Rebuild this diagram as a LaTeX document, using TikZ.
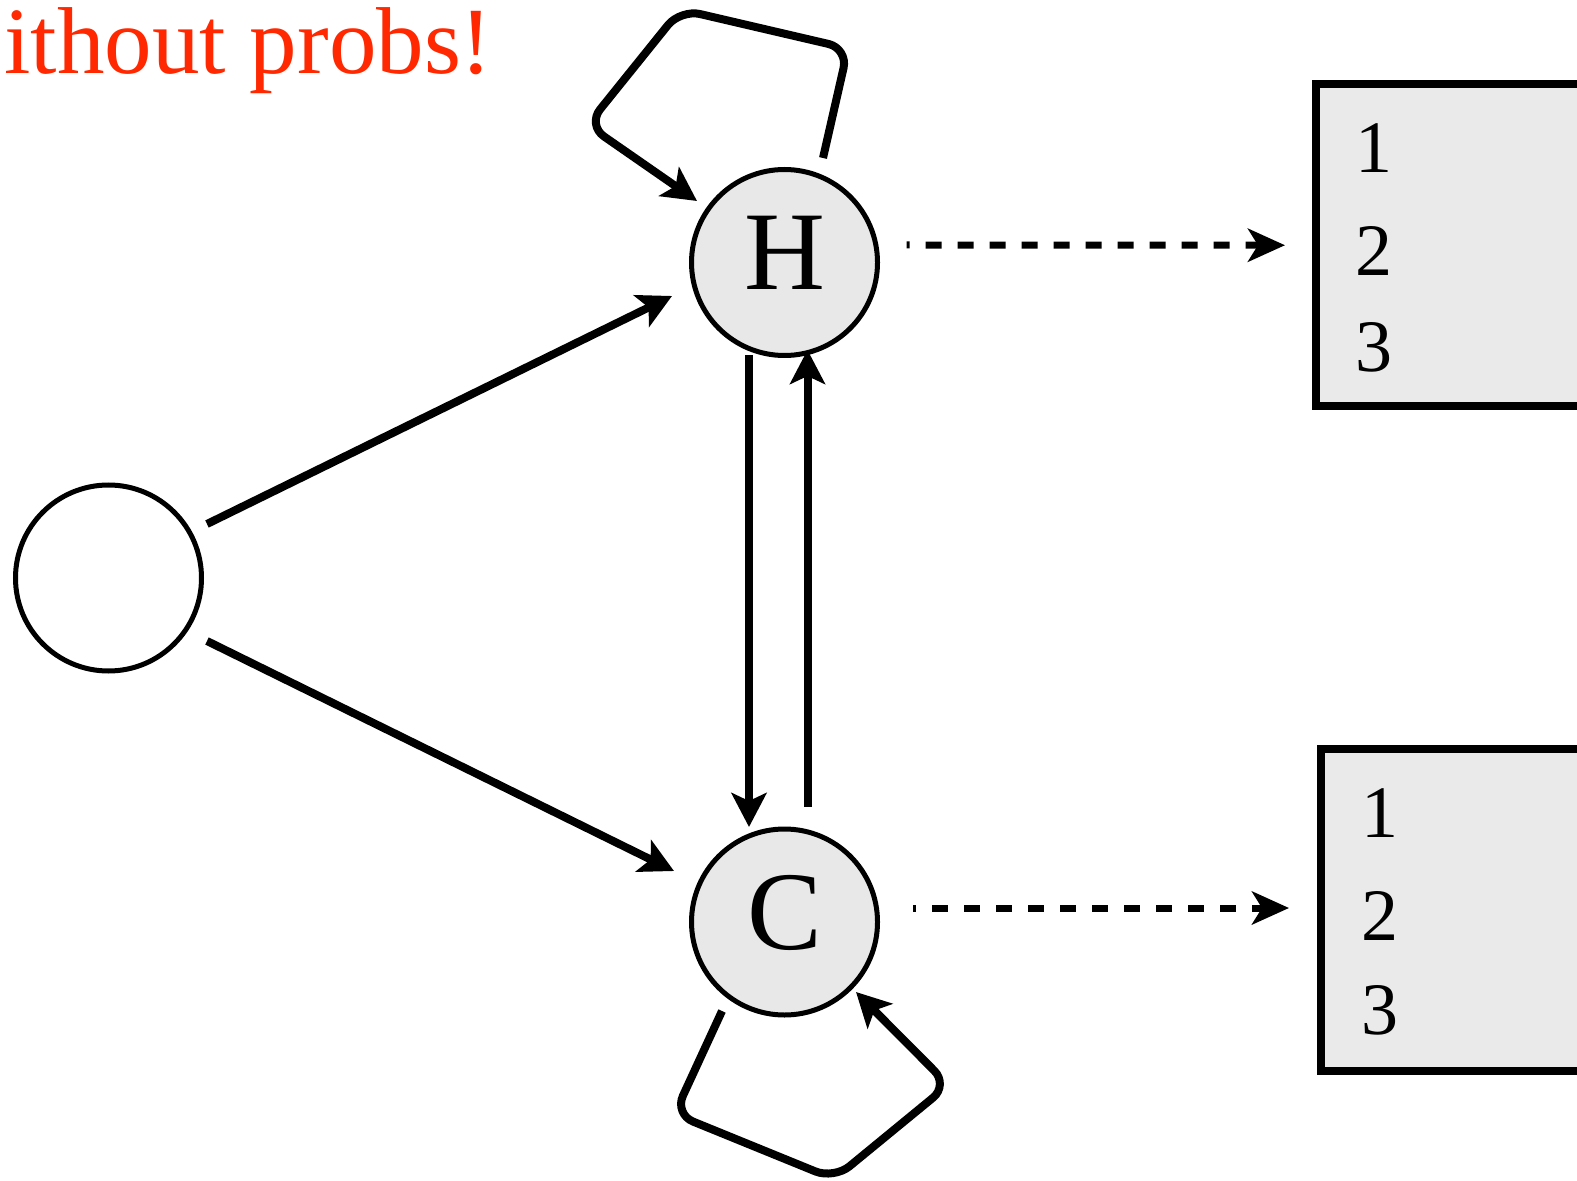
\documentclass[tikz,border=0pt]{standalone}
\usepackage{fontspec}
\setmainfont{Liberation Serif}
\usetikzlibrary{arrows.meta,calc}
\definecolor{titlered}{RGB}{255,40,0}
\definecolor{nodegrey}{RGB}{232,232,232}
\definecolor{boxgrey}{RGB}{234,234,234}

\begin{document}
\begin{tikzpicture}[x=0.5pt,y=-0.5pt,
  hid/.style={circle,draw=black,line width=2.5pt,fill=nodegrey,minimum size=93pt,
    inner sep=0pt,outer sep=0pt,font=\fontsize{56}{60}\selectfont,
    text height=37pt,text depth=10pt},
  initstate/.style={hid,fill=white},
  emitbox/.style={rectangle,draw=black,line width=4pt,fill=boxgrey,
    minimum width=200pt,minimum height=161pt,inner sep=0pt,outer sep=0pt,anchor=west},
  digit/.style={font=\fontsize{37}{40}\selectfont,anchor=base,inner sep=0pt},
  arr/.style={line width=4pt,-{Stealth[length=17pt,width=17.5pt,inset=4pt]}},
  selfloop/.style={arr,rounded corners=10pt},
  emit/.style={line width=3.5pt,dash pattern=on 8pt off 8pt,dash phase=6.5pt,
    -{Stealth[length=18.5pt,width=16.5pt,inset=5pt]}},
]
\useasboundingbox (0,0) rectangle (1577,1181);
\clip (0,0) rectangle (1577,1181);

% title
\node[anchor=base west,text=titlered,font=\fontsize{47.5}{52}\selectfont,inner sep=0pt]
  (title) at (4,74) {ithout probs!};

% states
\node[initstate] (s) at (108.5,578) {};
\node[hid] (H) at (784.5,262.5) {H};
\node[hid] (C) at (784.5,922) {C};

% emission boxes
\node[emitbox,minimum height=161.25pt] (b1) at (1316,245.25) {};
\node[emitbox] (b2) at (1321,910) {};
\node[digit] (b1one)   at ($(b1.west)+(58,-73)$) {1};
\node[digit] (b1two)   at ($(b1.west)+(58,30)$)  {2};
\node[digit] (b1three) at ($(b1.west)+(58,126)$) {3};
\node[digit] (b2one)   at ($(b2.west)+(59,-73)$) {1};
\node[digit] (b2two)   at ($(b2.west)+(59,30)$)  {2};
\node[digit] (b2three) at ($(b2.west)+(59,124)$) {3};

% transitions
\draw[arr] ($(s)+(98.5,-54)$) -- ($(H)+(-112.5,33.5)$);
\draw[arr] ($(s)+(98.5,63)$) -- ($(C)+(-110.5,-51)$);
\draw[arr] ($(H)+(-35.5,92.5)$) -- ($(C)+(-35.5,-95)$);
\draw[arr] ($(C)+(23,-115.5)$) -- ($(H)+(23,87.5)$);

% self transitions
\draw[selfloop] ($(H)+(38.5,-104.5)$) -- ($(H)+(63.5,-214)$)
  -- ($(H)+(-104,-253)$) -- ($(H)+(-197,-137.5)$) -- ($(H)+(-87.5,-61.5)$);
\draw[selfloop] ($(C)+(-62.5,89)$) -- ($(C)+(-110,192)$)
  -- ($(C)+(49.5,257)$) -- ($(C)+(164,163)$) -- ($(C)+(71.5,70)$);

% emissions
\draw[emit] ($(H)+(122,-17.5)$) -- ($(b1.west)+(-31,0)$);
\draw[emit] ($(C)+(128.5,-14)$) -- ($(b2.west)+(-32,-2)$);
\end{tikzpicture}
\end{document}
